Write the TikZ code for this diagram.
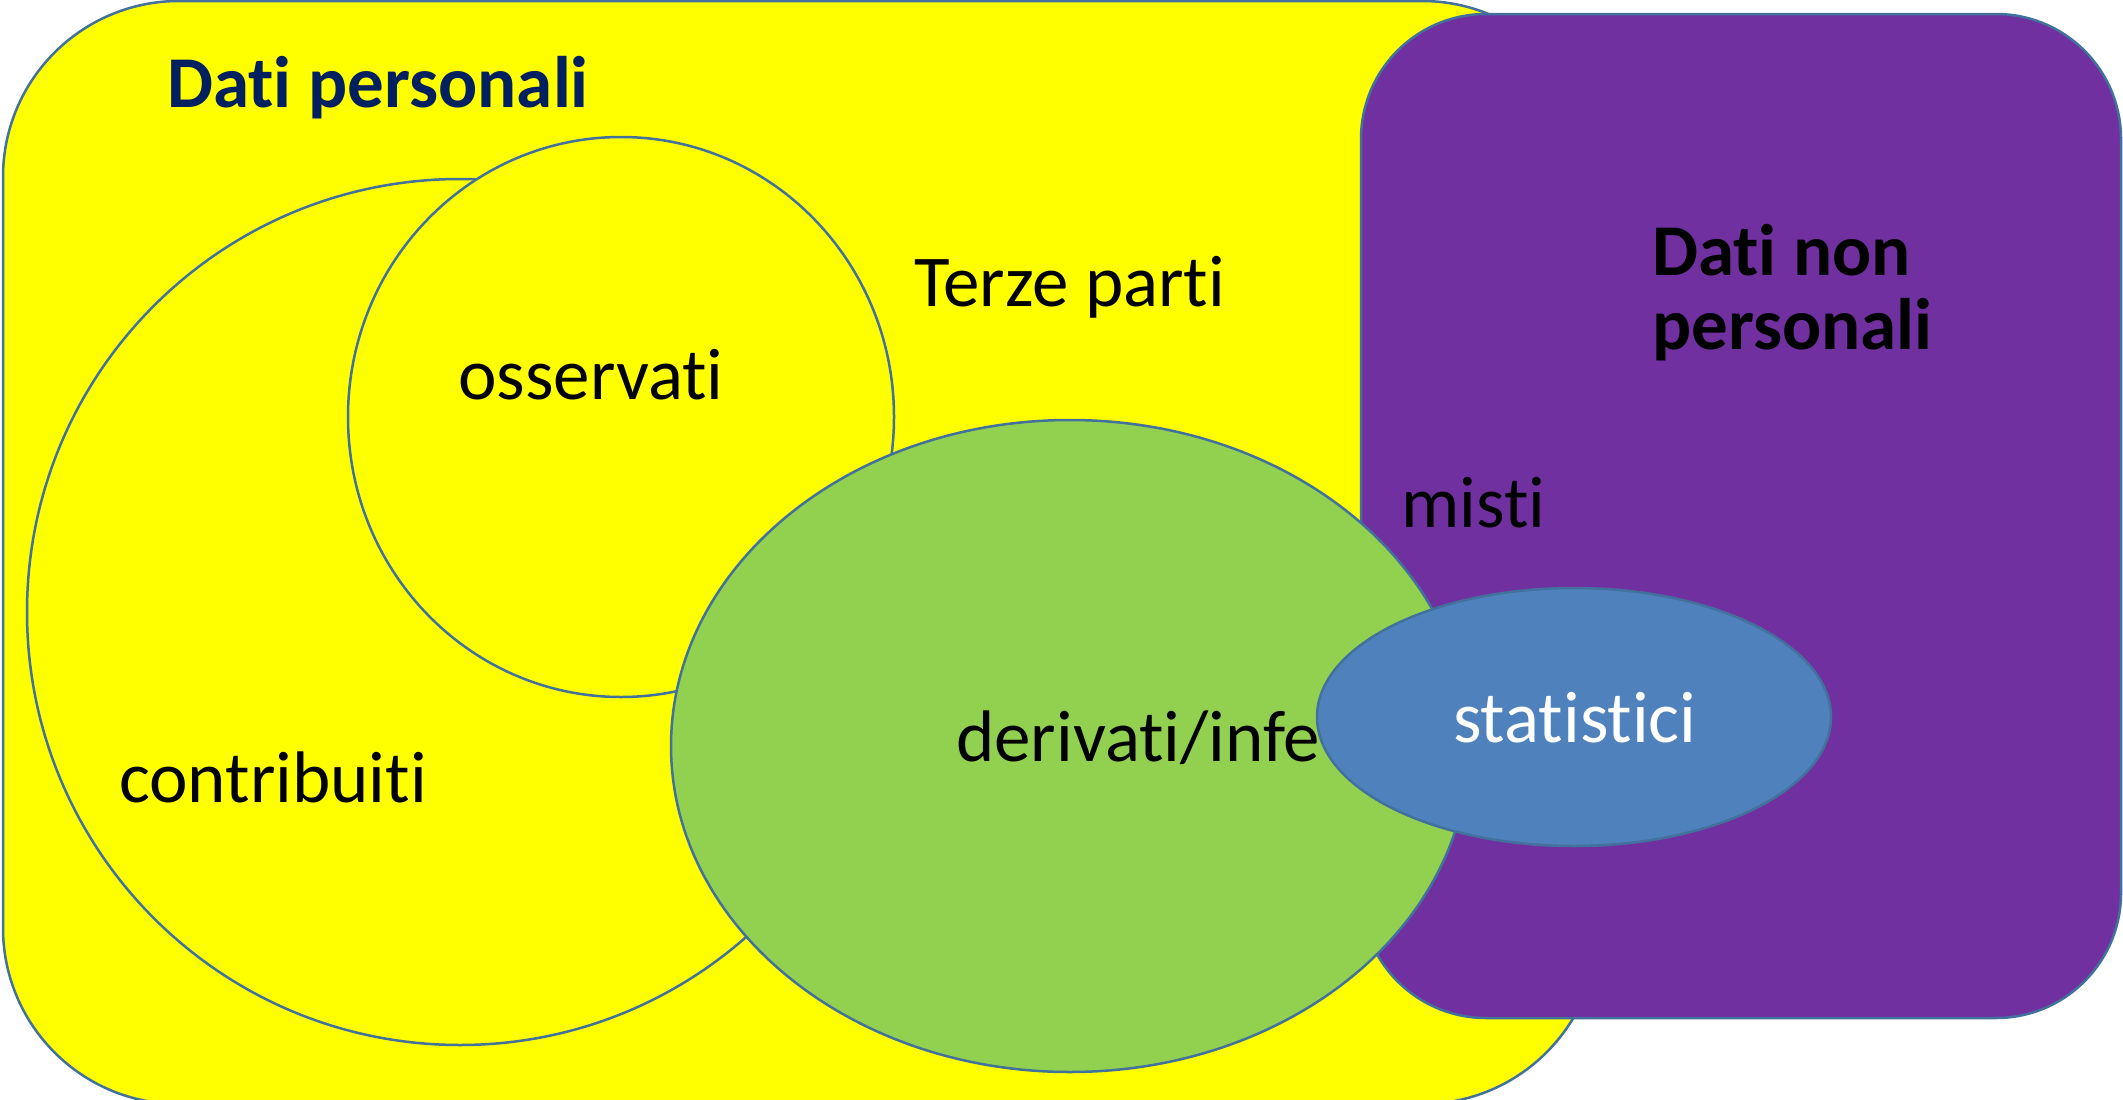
\documentclass[tikz,border=0pt]{standalone}
\usepackage{fontspec}
\setmainfont[RawFeature={-liga;-clig}]{Carlito}
\definecolor{yel}{HTML}{FFFF00}
\definecolor{purp}{HTML}{7030A0}
\definecolor{grn}{HTML}{92D050}
\definecolor{blu}{HTML}{4F81BD}
\definecolor{edge}{HTML}{41719C}
\definecolor{navy}{HTML}{002060}
\begin{document}
\begin{tikzpicture}[x=1pt,y=-1pt,
  shp/.style={draw=edge,line width=2.5pt},
  lbl/.style={inner sep=0pt,anchor=base west,font=\fontsize{73}{74.5}\selectfont}]
\useasboundingbox (0,0) rectangle (2123,1100);
% main areas
\draw[shp,fill=yel,rounded corners=176pt] (3,1) rectangle (1598,1104);
\draw[shp,fill=purp,rounded corners=125pt] (1361,14) rectangle (2121,1018);
% circles
\draw[shp,fill=yel] (460,612) circle [radius=433pt];
\draw[shp,fill=yel] (621,417) ellipse [x radius=273pt, y radius=280pt];
\draw[shp,fill=grn] (1070,746) ellipse [x radius=399pt, y radius=326pt];
% labels
\node[lbl,font=\fontsize{73}{74.5}\selectfont\bfseries,text=navy] (tdp) at (167,107) {Dati personali};
\node[lbl] (tterze) at (914,306) {Terze parti};
\node[lbl] (toss) at (458,399) {osservati};
\node[lbl] (tcontr) at (119,802) {contribuiti};
\node[lbl] (tmisti) at (1401,527) {misti};
\node[lbl,font=\fontsize{73}{74.5}\selectfont\bfseries] (tdnp) at (1652,275) {\vtop{\hbox{Dati non}\hbox{personali}}};
\node[lbl] (tder) at (956,761) {derivati/infe};
% statistici
\draw[shp,fill=blu] (1574,717) ellipse [x radius=257pt, y radius=129pt];
\node[lbl,text=white] (tstat) at (1453,742) {statistici};
\end{tikzpicture}
\end{document}
